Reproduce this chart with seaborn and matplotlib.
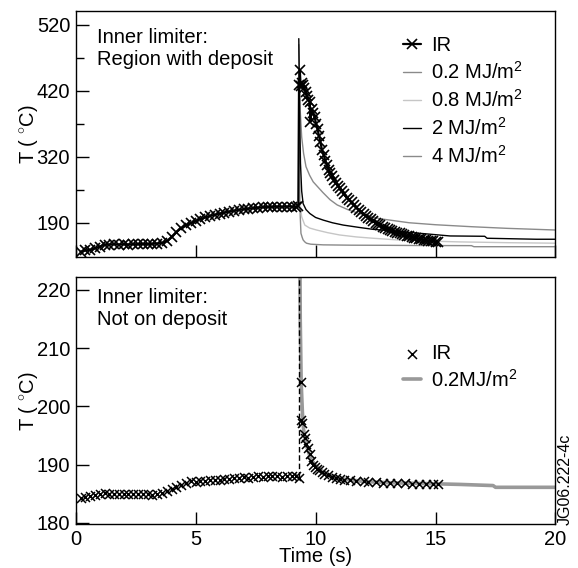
import numpy as np
import pandas as pd
import matplotlib
matplotlib.use("Agg")
import matplotlib.pyplot as plt
import seaborn as sns

# ---------------- data ----------------
# Top panel: IR measurement (region with deposit)
t_ir_top = [0.2, 0.4, 0.6, 0.8, 1.0, 1.2, 1.4, 1.6, 1.8, 2.0, 2.2, 2.4, 2.6, 2.8, 3.0, 3.2, 3.4, 3.6,
            3.8, 4.0, 4.2, 4.4, 4.6, 4.8, 5.0, 5.2, 5.4, 5.6, 5.8, 6.0, 6.2, 6.4, 6.6, 6.8, 7.0, 7.2,
            7.4, 7.6, 7.8, 8.0, 8.2, 8.4, 8.6, 8.8, 9.0, 9.2, 9.28,
            9.31, 9.34, 9.38, 9.42, 9.47, 9.52, 9.58, 9.64, 9.70, 9.76, 9.78, 9.84, 9.90, 9.96,
            10.02, 10.08, 10.14, 10.20, 10.27, 10.34, 10.41, 10.48, 10.55, 10.62, 10.70, 10.78,
            10.86, 10.94, 11.02, 11.10, 11.2, 11.3, 11.4, 11.5, 11.6, 11.7, 11.8, 11.9, 12.0, 12.1,
            12.2, 12.3, 12.4, 12.5, 12.6, 12.7, 12.8, 12.9, 13.0, 13.1, 13.2, 13.3, 13.4, 13.5,
            13.6, 13.7, 13.8, 13.9, 14.0, 14.1, 14.2, 14.3, 14.4, 14.5, 14.6, 14.7, 14.8, 14.9,
            15.0, 15.1]
T_ir_top = [176, 178, 179, 181, 184, 186.5, 187, 187.5, 187, 187.5, 187, 187.5, 187.5, 188, 187.5,
            188, 188.5, 189.5, 192, 198, 206, 212, 216, 219.5, 223, 225.5, 228, 230.5, 232, 234,
            235.5, 237, 238, 239.5, 240.5, 241.5, 242, 243, 243.5, 244, 244, 244.5, 244, 244.5,
            244.5, 244, 245,
            428, 451, 427, 432, 429, 424, 418, 412, 406, 403, 373, 392, 386, 380,
            370, 362, 352, 342, 330, 322, 314, 307, 300, 295, 291, 285,
            280, 276, 272, 268, 263, 258, 254, 251, 247, 243, 240, 236, 233, 230,
            227, 225, 222, 220, 218, 216, 214, 212, 210.5, 209, 207.5, 206, 205, 204,
            202.5, 201.5, 200.5, 199.5, 198.5, 197.5, 196.5, 195.5, 195, 194, 193.5, 193, 192.5, 192,
            191.5, 191]

# Top panel: model curves for different deposited energies
t_m02 = [9.30, 9.33, 9.36, 9.39, 9.44, 9.48, 9.55, 9.62, 9.8, 10.32, 11.5, 13.0, 14.35, 16.5, 16.6, 20.0]
T_m02 = [380, 290, 230, 204, 198, 194, 191, 189, 187.5, 186.5, 186, 185.8, 185.5, 185.3, 183.7, 183.7]

t_m08 = [9.30, 9.33, 9.37, 9.42, 9.55, 9.75, 10.04, 10.5, 11.0, 11.7, 12.4, 13.4, 14.35, 16.0, 18.0, 20.0]
T_m08 = [420, 300, 245, 229, 216.5, 212, 209, 205, 201.5, 198.5, 196.5, 194, 192.5, 191, 189.8, 189]

t_m2 = [9.30, 9.33, 9.37, 9.42, 9.48, 9.60, 9.76, 10.0, 10.32, 10.7, 11.15, 11.8, 12.4, 13.4, 14.35,
        15.6, 17.05, 17.15, 19.2, 20.0]
T_m2 = [499, 400, 310, 268, 249, 240, 234, 228, 224, 220, 216.5, 213, 210, 207, 204,
        200, 199.5, 196.5, 195, 195]

t_m4 = [9.30, 9.32, 9.36, 9.42, 9.50, 9.60, 9.75, 9.90, 10.05, 10.30, 10.60, 10.90, 11.40, 12.00,
        12.70, 13.90, 15.00, 16.50, 18.00, 20.00]
T_m4 = [490, 450, 390, 350, 325, 305, 292, 282, 276, 266, 255, 247, 239, 232,
        226, 220, 217, 214, 211.5, 209]

# Bottom panel: IR measurement (not on deposit)
t_ir_bot = [0.2, 0.4, 0.6, 0.8, 1.0, 1.2, 1.4, 1.6, 1.8, 2.0, 2.2, 2.4, 2.6, 2.8, 3.0, 3.2, 3.4, 3.6,
            3.8, 4.0, 4.2, 4.4, 4.6, 4.8, 5.0, 5.2, 5.4, 5.6, 5.8, 6.0, 6.2, 6.4, 6.6, 6.8, 7.0, 7.2,
            7.4, 7.6, 7.8, 8.0, 8.2, 8.4, 8.6, 8.8, 9.0, 9.2, 9.3,
            9.38, 9.40, 9.44, 9.50, 9.55, 9.60, 9.68, 9.75, 9.82, 9.90, 9.98, 10.05, 10.15, 10.25,
            10.36, 10.5, 10.67, 10.85, 11.0, 11.2, 11.44, 11.7, 12.0, 12.2, 12.5, 12.8, 13.1, 13.4,
            13.74, 14.0, 14.3, 14.6, 14.9, 15.12]
T_ir_bot = [184.3, 184.5, 184.6, 184.8, 185.0, 185.1, 185.0, 185.0, 185.0, 184.9, 185.0, 184.9,
            184.9, 185.0, 184.9, 184.8, 185.0, 185.2, 185.5, 185.8, 186.1, 186.5, 186.9, 187.1,
            187.0, 187.1, 187.2, 187.3, 187.4, 187.4, 187.6, 187.5, 187.7, 187.7, 187.8, 187.7,
            187.9, 188.0, 187.9, 188.0, 188.1, 188.0, 187.9, 188.1, 188.0, 188.1, 187.7,
            204.2, 197.6, 197.2, 195.3, 194.6, 193.5, 192.8, 191.9, 190.6, 189.9, 189.6, 189.3,
            189.0, 188.7, 188.4, 188.2, 187.9, 187.7, 187.6, 187.4, 187.3, 187.2, 187.1, 187.0,
            187.0, 186.9, 186.9, 186.8, 186.8, 186.7, 186.7, 186.7, 186.6, 186.6]

# Bottom panel: model 0.2 MJ/m2
t_mb = [9.33, 9.36, 9.40, 9.45, 9.50, 9.60, 9.80, 10.0, 10.4, 11.0, 12.0, 13.0, 14.0, 15.0, 16.0,
        17.4, 17.5, 20.0]
T_mb = [240, 215, 204, 199, 196, 193.5, 191, 189.8, 188.5, 187.6, 187.1, 186.9, 186.8, 186.7,
        186.6, 186.4, 186.1, 186.1]

# Pulse marker (dashed vertical line)
t_pulse = [9.3, 9.3]
T_pulse = [187.8, 230]

# Tick labels
x_ticks = [0, 5, 10, 15, 20]
top_yticks = [520, 420, 320, 220]
top_yticklabels = ["520", "420", "320", "190"]
top_yminor = [470, 370, 270]
bot_yticks = [180, 190, 200, 210, 220]

labels_top = ["IR", "0.2 MJ/m$^2$", "0.8 MJ/m$^2$", "2 MJ/m$^2$", "4 MJ/m$^2$"]
labels_bot = ["IR", "0.2MJ/m$^2$"]

# ---------------- style ----------------
sns.set_style("ticks")
plt.rcParams["font.family"] = ["Liberation Sans", "DejaVu Sans"]
plt.rcParams["mathtext.fontset"] = "custom"
plt.rcParams["mathtext.rm"] = "Liberation Sans"
plt.rcParams["mathtext.it"] = "Liberation Sans"
for k in ["text.color", "axes.labelcolor", "xtick.color", "ytick.color", "axes.edgecolor"]:
    plt.rcParams[k] = "black"
FS = 14.5

fig = plt.figure(figsize=(5.78, 5.68), dpi=100)
L, W = 0.131, 0.830
ax1 = fig.add_axes([L, 0.548, W, 0.433])
ax2 = fig.add_axes([L, 0.0775, W, 0.4345])

GRAY = "#8a8a8a"
LIGHT = "#c6c6c6"

# ---- top panel ----
sns.lineplot(x=t_m02, y=T_m02, ax=ax1, color=GRAY, lw=1.0, sort=False, estimator=None)
sns.lineplot(x=t_m08, y=T_m08, ax=ax1, color=LIGHT, lw=1.0, sort=False, estimator=None)
sns.lineplot(x=t_m4, y=T_m4, ax=ax1, color=GRAY, lw=1.0, sort=False, estimator=None)
sns.lineplot(x=t_m2, y=T_m2, ax=ax1, color="black", lw=1.0, sort=False, estimator=None)
sns.lineplot(x=t_ir_top, y=T_ir_top, ax=ax1, color="black", lw=1.6, marker="x", markersize=7,
             markeredgewidth=1.2, markeredgecolor="black", sort=False, estimator=None)
lines = ax1.get_lines()
# order: IR, 0.2, 0.8, 2, 4
handles = [lines[4], lines[0], lines[1], lines[3], lines[2]]
ax1.legend(handles, labels_top, loc="upper left", bbox_to_anchor=(0.665, 0.93), frameon=False,
           fontsize=FS, handlelength=0.9, handletextpad=0.5, labelspacing=0.3,
           borderaxespad=0.0, labelcolor="black")

ax1.set_xlim(0, 20)
ax1.set_ylim(168.5, 541.2)
ax1.set_xticks(x_ticks)
ax1.set_xticklabels([])
ax1.set_yticks(top_yticks)
ax1.set_yticklabels(top_yticklabels)
ax1.set_yticks(top_yminor, minor=True)
ax1.set_xlabel("")
ax1.set_ylabel("T ( $^{\\circ}$C)", fontsize=FS)
ax1.yaxis.set_label_coords(-0.075, 0.5)
ax1.text(0.045, 0.93, "Inner limiter:\nRegion with deposit", transform=ax1.transAxes,
         fontsize=FS, va="top", ha="left", linespacing=1.2, color="black")

# ---- bottom panel ----
sns.lineplot(x=t_mb, y=T_mb, ax=ax2, color="#999999", lw=2.6, sort=False, estimator=None,
             label=labels_bot[1])
ax2.plot(t_pulse, T_pulse, color="black", lw=1.0, ls=(0, (4, 2)))
sns.scatterplot(x=t_ir_bot, y=T_ir_bot, ax=ax2, marker="x", color="black", s=42, linewidth=1.1,
                label=labels_bot[0], zorder=3)
hl, lb = ax2.get_legend_handles_labels()
ax2.legend([hl[1], hl[0]], [lb[1], lb[0]], loc="upper left", bbox_to_anchor=(0.665, 0.76),
           frameon=False, fontsize=FS, handlelength=0.9, handletextpad=0.5, labelspacing=0.25,
           borderaxespad=0.0, labelcolor="black")

ax2.set_xlim(0, 20)
ax2.set_ylim(179.8, 222.2)
ax2.set_xticks(x_ticks)
ax2.set_yticks(bot_yticks)
ax2.set_xlabel("Time (s)", fontsize=FS, labelpad=-1)
ax2.set_ylabel("T ( $^{\\circ}$C)", fontsize=FS)
ax2.yaxis.set_label_coords(-0.075, 0.5)
ax2.text(0.045, 0.955, "Inner limiter:\nNot on deposit", transform=ax2.transAxes,
         fontsize=FS, va="top", ha="left", linespacing=1.2, color="black")

for ax in (ax1, ax2):
    for s in ax.spines.values():
        s.set_visible(True)
        s.set_linewidth(1.0)
        s.set_color("black")
    ax.tick_params(axis="both", which="major", direction="in", length=9, width=1.0,
                   labelsize=FS, pad=4, colors="black")
    ax.tick_params(axis="both", which="minor", direction="in", length=6, width=1.0)
    ax.tick_params(top=False, right=False, which="both")

fig.text(0.977, 0.0757, "JG06.222-4c", rotation=90, fontsize=11.5, ha="center", va="bottom",
         color="black")

fig.savefig("out.png", dpi=100)
